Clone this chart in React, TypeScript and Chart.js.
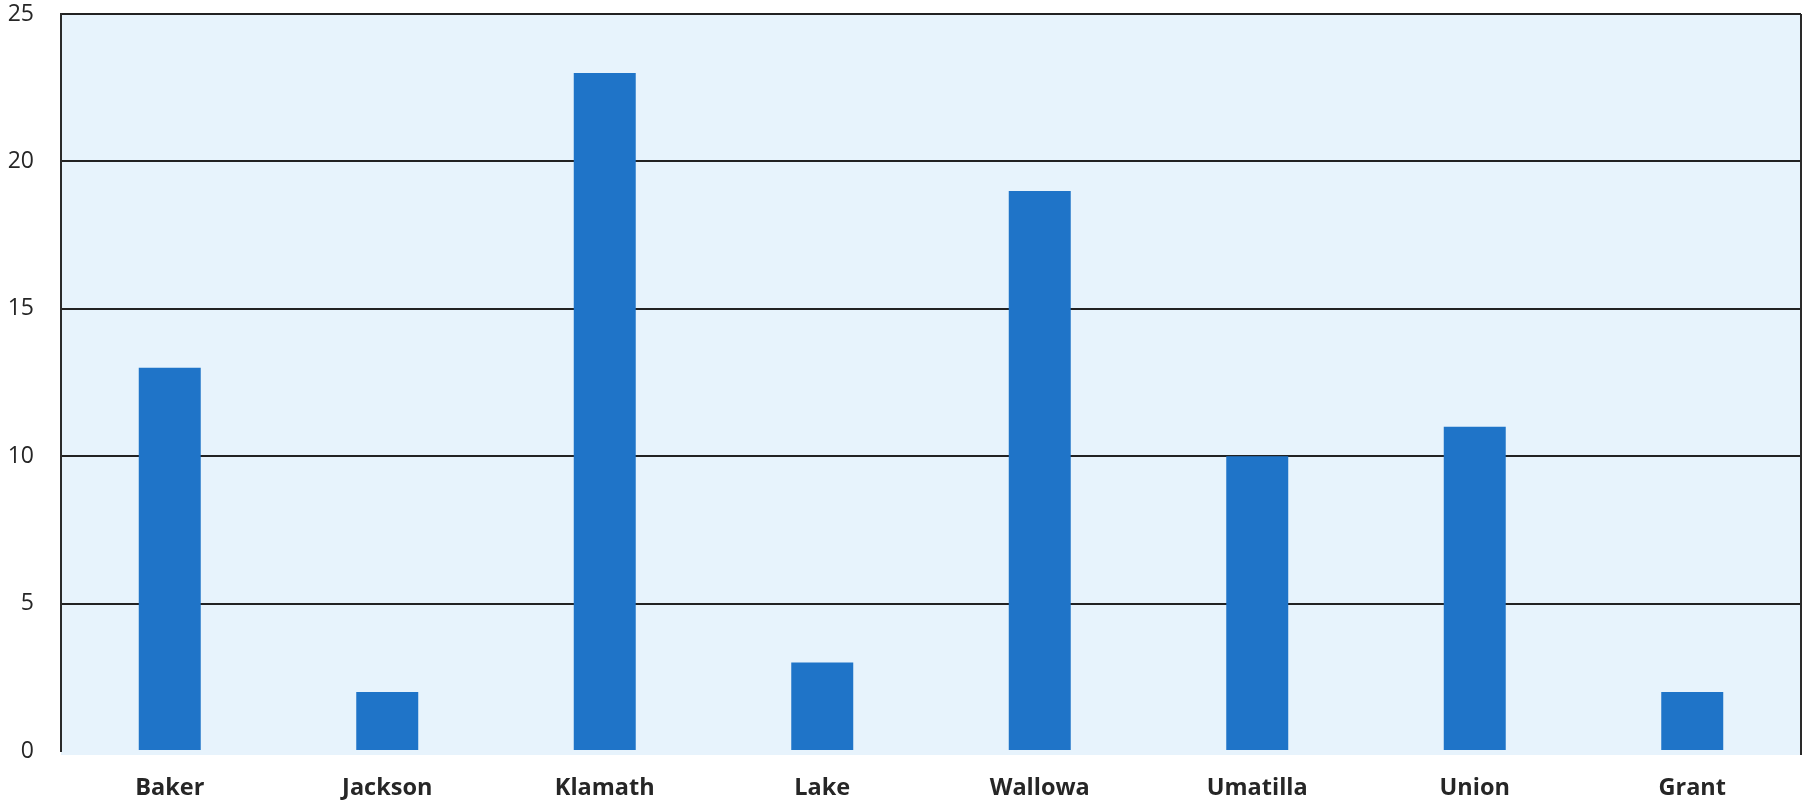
import React, { useEffect, useRef } from "react";
import { Chart, registerables } from "chart.js";

Chart.register(...registerables);

const categories = ["Baker", "Jackson", "Klamath", "Lake", "Wallowa", "Umatilla", "Union", "Grant"];
const values = [13, 2, 23, 3, 19, 10, 11, 2];
const yTicks = [0, 5, 10, 15, 20, 25];

const bgPlugin = {
  id: "plotBg",
  beforeDraw(chart: any) {
    const { ctx, chartArea } = chart;
    ctx.save();
    ctx.fillStyle = "#e7f3fc";
    ctx.fillRect(chartArea.left, chartArea.top, chartArea.right - chartArea.left, chartArea.bottom - chartArea.top + 4);
    ctx.restore();
  },
  afterDraw(chart: any) {
    const { ctx, chartArea } = chart;
    ctx.save();
    ctx.strokeStyle = "#2a2a2a";
    ctx.lineWidth = 2;
    ctx.beginPath();
    ctx.moveTo(chartArea.right, chartArea.top);
    ctx.lineTo(chartArea.right, chartArea.bottom + 4);
    ctx.stroke();
    ctx.restore();
  },
};

export default function App() {
  const ref = useRef<HTMLCanvasElement>(null);
  useEffect(() => {
    const chart = new Chart(ref.current!, {
      type: "bar",
      data: {
        labels: categories,
        datasets: [
          {
            data: values,
            backgroundColor: "#1f74c8",
            barPercentage: 0.57,
            categoryPercentage: 0.5,
          },
        ],
      },
      options: {
        animation: false,
        responsive: false,
        maintainAspectRatio: false,
        layout: { padding: { top: 14, right: 2, left: 0, bottom: 0 } },
        plugins: { legend: { display: false }, tooltip: { enabled: false } },
        scales: {
          x: {
            grid: { display: false, drawTicks: false },
            border: { display: false },
            ticks: {
              color: "#262626",
              padding: 23,
              font: { family: "'Open Sans'", size: 23.5, weight: "bold" },
            },
            afterFit(scale: any) {
              scale.height = 53;
              scale.paddingLeft = 0;
              scale.paddingRight = 0;
            },
          },
          y: {
            min: 0,
            max: 25,
            afterBuildTicks(scale: any) {
              scale.ticks = yTicks.map((v) => ({ value: v }));
            },
            grid: {
              color: (c: any) => (c.tick && c.tick.value === 0 ? "rgba(0,0,0,0)" : "#222222"),
              lineWidth: 2,
              drawTicks: false,
            },
            border: { display: true, color: "#2a2a2a", width: 2 },
            ticks: {
              color: "#262626",
              padding: 27,
              font: { family: "'Open Sans'", size: 23, weight: 500 },
            },
            afterFit(scale: any) {
              scale.width = 61;
              scale.paddingTop = 0;
              scale.paddingBottom = 0;
            },
          },
        },
      },
      plugins: [bgPlugin],
    });
    return () => chart.destroy();
  }, []);
  return (
    <div style={{ position: "fixed", left: 0, top: 0, width: 1803, height: 804, background: "#fff" }}>
      <canvas ref={ref} width={1803} height={804} style={{ display: "block" }} />
    </div>
  );
}
